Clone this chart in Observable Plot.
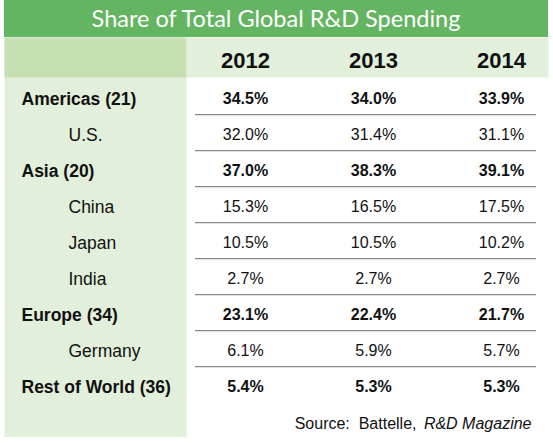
<!DOCTYPE html>
<html>
<head>
<meta charset="utf-8">
<script src="https://cdn.jsdelivr.net/npm/d3@7"></script>
<script src="https://cdn.jsdelivr.net/npm/@observablehq/plot@0.6"></script>
<style>
  html, body { margin: 0; padding: 0; background: #fff; }
  #title {
    margin-left: 4px; width: 544px; height: 37px; line-height: 36px;
    background: #64b562; color: #fff; text-align: center;
    font-family: Lato, "Open Sans", sans-serif; font-size: 23.5px; font-weight: 400;
  }
  svg { display: block; }
</style>
</head>
<body>
<div id="title"></div>
<div id="chart"></div>
<script>
const title = "Share of Total Global R&D Spending";
const years = ["2012", "2013", "2014"];
const regions = ["Americas (21)", "U.S.", "Asia (20)", "China", "Japan", "India", "Europe (34)", "Germany", "Rest of World (36)"];
const levels = [0, 1, 0, 1, 1, 1, 0, 1, 0]; // 0 = region total (bold), 1 = country
const share2012 = [34.5, 32.0, 37.0, 15.3, 10.5, 2.7, 23.1, 6.1, 5.4];
const share2013 = [34.0, 31.4, 38.3, 16.5, 10.5, 2.7, 22.4, 5.9, 5.3];
const share2014 = [33.9, 31.1, 39.1, 17.5, 10.2, 2.7, 21.7, 5.7, 5.3];
const sourceLabel = "Source:\u00a0 Battelle,";
const sourcePublication = "R&D Magazine";

document.getElementById("title").textContent = title;

const series = [share2012, share2013, share2014];
const cells = regions.flatMap((region, i) =>
  years.map((year, j) => ({region, year, value: series[j][i], level: levels[i]}))
);
const rows = regions.map((region, i) => ({region, level: levels[i]}));

const rowCount = regions.length;
const svgHeight = 400, headerH = 40, footerH = 34;
const frameH = svgHeight - headerH - footerH;
const bandHalf = frameH / rowCount / 2;
const lightGreen = "#e2efda", midGreen = "#c6e0b4";

const chart = Plot.plot({
  width: 553,
  height: svgHeight,
  marginTop: headerH,
  marginBottom: footerH,
  marginLeft: 0,
  marginRight: 0,
  x: {type: "point", domain: years, range: [244, 501], padding: 0, axis: null},
  y: {type: "band", domain: regions, padding: 0, axis: null},
  style: {fontFamily: "'Liberation Sans', Arial, Helvetica, sans-serif", color: "#111", background: "#fff"},
  marks: [
    // left label column
    Plot.frame({fill: lightGreen, stroke: null, insetTop: -headerH, insetBottom: -footerH, insetLeft: 4, insetRight: 367}),
    // header row
    Plot.frame({fill: midGreen, stroke: null, insetTop: -headerH, insetBottom: frameH, insetLeft: 4, insetRight: 367}),
    Plot.frame({fill: lightGreen, stroke: null, insetTop: -headerH, insetBottom: frameH, insetLeft: 186, insetRight: 5}),
    // row separators
    Plot.ruleY(regions.slice(0, rowCount - 1), {y: d => d, dy: bandHalf, stroke: "#868686", strokeWidth: 1.2, insetLeft: 195, insetRight: 17}),
    // year headers
    Plot.text(years, {x: d => d, text: d => d, frameAnchor: "top", lineAnchor: "middle", dy: -16.5, fontSize: 22, fontWeight: "bold"}),
    // row labels
    Plot.text(rows.filter(d => d.level === 0), {y: "region", text: "region", frameAnchor: "left", textAnchor: "start", dx: 21, dy: 2.5, fontSize: 17.5, fontWeight: "bold"}),
    Plot.text(rows.filter(d => d.level === 1), {y: "region", text: "region", frameAnchor: "left", textAnchor: "start", dx: 68, dy: 2.5, fontSize: 17.5}),
    // values
    Plot.text(cells.filter(d => d.level === 0), {x: "year", y: "region", text: d => d.value.toFixed(1) + "%", dy: 2.5, fontSize: 16, fontWeight: "bold"}),
    Plot.text(cells.filter(d => d.level === 1), {x: "year", y: "region", text: d => d.value.toFixed(1) + "%", dy: 2.5, fontSize: 16}),
    // source
    Plot.text([sourceLabel], {text: d => d, frameAnchor: "bottom-right", textAnchor: "end", lineAnchor: "middle", dx: -137, dy: 20.3, fontSize: 16}),
    Plot.text([sourcePublication], {text: d => d, frameAnchor: "bottom-right", textAnchor: "end", lineAnchor: "middle", dx: -22, dy: 20.3, fontSize: 16, fontStyle: "italic"})
  ]
});
document.getElementById("chart").appendChild(chart);
</script>
</body>
</html>
